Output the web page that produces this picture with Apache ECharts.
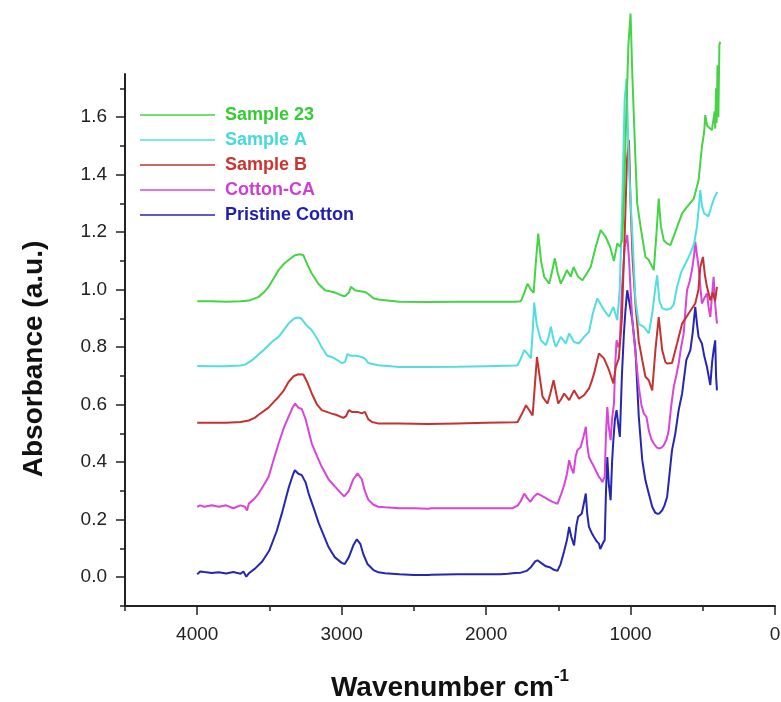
<!DOCTYPE html>
<html>
<head>
<meta charset="utf-8">
<script src="https://cdn.jsdelivr.net/npm/echarts@6/dist/echarts.min.js"></script>
<style>
  html, body { margin: 0; padding: 0; background: #fff; }
  #chart { width: 781px; height: 702px; }
</style>
</head>
<body>
<div id="chart"></div>
<script>
// legend / series names
const names = ['Sample 23', 'Sample A', 'Sample B', 'Cotton-CA', 'Pristine Cotton'];

// tick values
const xMajor = [4000, 3000, 2000, 1000, 0];
const xMinor = [4500, 3500, 2500, 1500, 500];
const yMajor = [0, 0.2, 0.4, 0.6, 0.8, 1.0, 1.2, 1.4, 1.6];
const yMinor = [-0.1, 0.1, 0.3, 0.5, 0.7, 0.9, 1.1, 1.3, 1.5, 1.7];

// spectra, [wavenumber, absorbance]
const sample23 = [
  [4000,0.96],[3900,0.96],[3800,0.958],[3700,0.96],[3643,0.962],[3610,0.968],[3575,0.975],[3540,0.99],
  [3506,1.01],[3470,1.04],[3437,1.068],[3400,1.09],[3350,1.11],[3322,1.12],[3290,1.123],[3265,1.12],
  [3240,1.09],[3207,1.056],[3160,1.02],[3115,0.998],[3069,0.993],[3046,0.99],[3000,0.98],[2977,0.977],
  [2950,0.99],[2936,1.01],[2908,0.998],[2880,0.995],[2839,0.992],[2816,0.985],[2780,0.97],[2747,0.966],
  [2600,0.958],[2400,0.957],[2200,0.958],[2000,0.958],[1800,0.958],[1759,0.96],[1735,0.99],[1713,1.021],
  [1690,1.0],[1671,0.989],[1655,1.1],[1639,1.195],[1620,1.1],[1598,1.045],[1563,1.021],[1545,1.06],
  [1524,1.109],[1505,1.06],[1483,1.021],[1460,1.045],[1441,1.068],[1414,1.045],[1395,1.079],[1363,1.045],
  [1333,1.033],[1303,1.056],[1276,1.079],[1241,1.149],[1207,1.207],[1172,1.184],[1142,1.149],[1115,1.1],
  [1092,1.161],[1074,1.15],[1057,1.172],[1046,1.311],[1030,1.6],[1015,1.85],[1000,1.96],[988,1.75],
  [977,1.6],[966,1.45],[954,1.3],[931,1.22],[897,1.114],[874,1.103],[839,1.068],[820,1.2],[805,1.317],
  [790,1.22],[770,1.172],[747,1.16],[724,1.155],[690,1.201],[643,1.265],[609,1.288],[562,1.317],
  [529,1.381],[506,1.497],[490,1.55],[483,1.607],[470,1.57],[460,1.566],[437,1.555],[425,1.555],
  [418,1.62],[414,1.56],[408,1.7],[404,1.58],[398,1.78],[392,1.6],[385,1.85],[380,1.862]
];
const sampleA = [
  [4000,0.735],[3900,0.734],[3800,0.734],[3700,0.736],[3666,0.74],[3620,0.755],[3575,0.775],[3540,0.79],
  [3480,0.82],[3437,0.836],[3400,0.86],[3368,0.882],[3330,0.9],[3300,0.903],[3280,0.9],[3250,0.88],
  [3207,0.859],[3170,0.83],[3138,0.8],[3100,0.77],[3069,0.766],[3046,0.76],[3000,0.745],[2977,0.748],
  [2960,0.776],[2935,0.77],[2900,0.77],[2862,0.766],[2839,0.76],[2816,0.745],[2747,0.737],[2600,0.731],
  [2400,0.731],[2200,0.732],[2000,0.734],[1800,0.736],[1782,0.737],[1760,0.76],[1736,0.79],[1710,0.775],
  [1690,0.761],[1678,0.85],[1667,0.955],[1650,0.88],[1621,0.824],[1586,0.807],[1570,0.83],[1552,0.871],
  [1530,0.82],[1517,0.801],[1483,0.836],[1448,0.813],[1425,0.848],[1391,0.818],[1357,0.813],[1322,0.836],
  [1288,0.853],[1260,0.92],[1241,0.952],[1230,0.969],[1184,0.929],[1149,0.906],[1119,0.94],[1092,0.894],
  [1075,1.0],[1057,1.311],[1041,1.659],[1028,1.734],[1011,1.427],[988,1.195],[966,0.963],[943,0.88],
  [931,0.877],[908,0.871],[874,0.848],[850,0.917],[830,1.0],[816,1.05],[800,0.96],[780,0.935],[750,0.93],
  [720,0.935],[700,0.95],[678,1.01],[650,1.06],[620,1.09],[586,1.126],[560,1.16],[540,1.22],[525,1.3],
  [517,1.346],[505,1.29],[490,1.265],[460,1.255],[440,1.29],[420,1.32],[400,1.34]
];
const sampleB = [
  [4000,0.537],[3900,0.537],[3800,0.537],[3700,0.54],[3643,0.545],[3600,0.555],[3575,0.565],[3506,0.59],
  [3470,0.61],[3437,0.627],[3400,0.65],[3368,0.679],[3330,0.7],[3300,0.706],[3265,0.705],[3240,0.68],
  [3207,0.639],[3170,0.6],[3138,0.581],[3069,0.569],[3040,0.565],[2988,0.554],[2970,0.56],[2950,0.581],
  [2930,0.575],[2890,0.575],[2860,0.57],[2839,0.575],[2816,0.55],[2790,0.54],[2750,0.535],[2600,0.535],
  [2400,0.533],[2200,0.535],[2000,0.537],[1800,0.539],[1782,0.54],[1750,0.57],[1724,0.598],[1700,0.58],
  [1678,0.563],[1665,0.65],[1648,0.766],[1630,0.7],[1609,0.627],[1575,0.604],[1555,0.64],[1533,0.685],
  [1515,0.64],[1501,0.604],[1480,0.62],[1460,0.639],[1425,0.616],[1391,0.65],[1357,0.621],[1322,0.633],
  [1288,0.656],[1270,0.68],[1253,0.708],[1219,0.778],[1184,0.761],[1149,0.72],[1119,0.674],[1103,0.731],
  [1081,0.761],[1060,0.9],[1040,1.2],[1025,1.45],[1011,1.52],[1000,1.3],[985,1.1],[966,0.95],[943,0.82],
  [919,0.755],[897,0.697],[874,0.685],[850,0.65],[828,0.79],[805,0.905],[781,0.79],[760,0.75],[747,0.743],
  [713,0.745],[678,0.813],[643,0.882],[598,0.917],[552,0.952],[530,1.0],[517,1.079],[499,1.114],[485,1.05],
  [471,1.01],[448,0.963],[430,0.99],[415,0.96],[402,1.01]
];
const cottonCA = [
  [4000,0.245],[3980,0.25],[3950,0.245],[3900,0.25],[3850,0.245],[3800,0.25],[3750,0.24],[3700,0.25],
  [3670,0.245],[3655,0.232],[3643,0.256],[3610,0.27],[3575,0.291],[3540,0.32],[3506,0.349],[3470,0.41],
  [3437,0.465],[3400,0.52],[3368,0.558],[3340,0.59],[3322,0.604],[3300,0.59],[3276,0.585],[3250,0.55],
  [3207,0.465],[3170,0.42],[3138,0.384],[3090,0.34],[3046,0.315],[3010,0.295],[2982,0.281],[2950,0.3],
  [2920,0.34],[2890,0.361],[2860,0.34],[2840,0.3],[2816,0.27],[2780,0.252],[2747,0.245],[2700,0.243],
  [2600,0.24],[2500,0.24],[2400,0.238],[2390,0.232],[2380,0.24],[2200,0.24],[2000,0.24],[1850,0.24],
  [1816,0.24],[1780,0.25],[1760,0.265],[1736,0.291],[1715,0.275],[1694,0.262],[1670,0.28],[1644,0.291],
  [1620,0.285],[1598,0.279],[1570,0.27],[1540,0.262],[1506,0.255],[1480,0.29],[1460,0.32],[1440,0.36],
  [1425,0.407],[1410,0.38],[1395,0.361],[1380,0.42],[1368,0.442],[1345,0.453],[1325,0.49],[1310,0.523],
  [1300,0.46],[1288,0.418],[1270,0.4],[1253,0.384],[1235,0.365],[1219,0.349],[1205,0.34],[1195,0.331],
  [1179,0.35],[1170,0.5],[1161,0.592],[1150,0.52],[1138,0.477],[1128,0.55],[1115,0.604],[1105,0.75],
  [1097,0.824],[1085,0.8],[1074,0.82],[1060,1.0],[1040,1.15],[1023,1.19],[1010,1.1],[1000,1.0],[988,0.894],
  [966,0.78],[943,0.662],[925,0.6],[908,0.569],[890,0.558],[874,0.511],[856,0.48],[839,0.465],[820,0.452],
  [805,0.448],[787,0.45],[770,0.459],[750,0.48],[736,0.511],[720,0.59],[701,0.662],[684,0.7],[667,0.743],
  [650,0.8],[632,0.848],[620,0.93],[609,0.998],[590,1.03],[575,1.068],[560,1.12],[552,1.166],[540,1.12],
  [529,1.079],[515,1.0],[506,0.952],[490,0.97],[471,0.987],[460,0.94],[448,0.905],[436,0.98],[425,1.045],
  [414,0.95],[402,0.882]
];
const pristine = [
  [4000,0.01],[3980,0.02],[3950,0.018],[3900,0.015],[3850,0.017],[3800,0.013],[3750,0.018],[3700,0.012],
  [3680,0.02],[3660,0.002],[3640,0.015],[3600,0.03],[3550,0.055],[3500,0.094],[3450,0.16],[3414,0.222],
  [3366,0.313],[3335,0.36],[3324,0.372],[3300,0.36],[3276,0.355],[3250,0.33],[3228,0.29],[3190,0.235],
  [3159,0.188],[3120,0.14],[3090,0.104],[3048,0.07],[3000,0.05],[2979,0.046],[2950,0.07],[2920,0.11],
  [2895,0.132],[2870,0.115],[2850,0.08],[2820,0.045],[2780,0.025],[2745,0.017],[2700,0.014],[2600,0.01],
  [2500,0.008],[2400,0.008],[2390,0.002],[2380,0.009],[2200,0.01],[2000,0.01],[1900,0.01],[1850,0.012],
  [1800,0.015],[1760,0.016],[1720,0.022],[1690,0.035],[1660,0.055],[1644,0.059],[1620,0.05],[1586,0.038],
  [1560,0.035],[1530,0.026],[1506,0.022],[1485,0.045],[1460,0.09],[1440,0.13],[1425,0.175],[1410,0.14],
  [1391,0.111],[1375,0.18],[1363,0.21],[1338,0.221],[1322,0.26],[1310,0.291],[1300,0.22],[1288,0.175],
  [1270,0.155],[1253,0.14],[1235,0.125],[1219,0.117],[1210,0.098],[1202,0.094],[1190,0.12],[1179,0.129],
  [1170,0.3],[1161,0.418],[1150,0.32],[1138,0.268],[1128,0.4],[1119,0.477],[1108,0.55],[1097,0.581],
  [1085,0.53],[1074,0.488],[1060,0.7],[1046,0.848],[1035,0.93],[1023,0.998],[1010,0.96],[988,0.894],
  [966,0.79],[943,0.558],[919,0.407],[897,0.337],[885,0.331],[874,0.291],[850,0.245],[830,0.225],
  [816,0.221],[800,0.222],[781,0.233],[765,0.25],[747,0.279],[730,0.36],[713,0.442],[690,0.5],[667,0.581],
  [643,0.639],[614,0.755],[586,0.79],[570,0.85],[552,0.94],[540,0.88],[529,0.836],[506,0.813],[490,0.77],
  [471,0.731],[448,0.668],[435,0.75],[425,0.79],[414,0.824],[408,0.7],[402,0.65]
];

const lineColors = ['#45d445', '#52dede', '#c43232', '#d845d8', '#2626b0'];
const textColors = ['#33cc33', '#44dada', '#cc3333', '#cc40cc', '#1e1eb4'];
const spectra = [sample23, sampleA, sampleB, cottonCA, pristine];

let myChart = echarts.init(document.getElementById('chart'));

let series = [];
for (let i = spectra.length - 1; i >= 0; i--) {
  series.push({
    name: names[i],
    type: 'line',
    data: spectra[i],
    showSymbol: false,
    clip: false,
    color: lineColors[i],
    lineStyle: { width: 2, color: lineColors[i] }
  });
}

const axisColor = '#222';
const font = 'Liberation Sans, Arial, sans-serif';

let option = {
  animation: false,
  backgroundColor: '#fff',
  grid: { left: 125, right: 6, top: 74, bottom: 96, outerBoundsMode: 'none' },
  legend: {
    orient: 'vertical',
    left: 140,
    top: 106,
    padding: 0,
    itemGap: 7,
    itemWidth: 75,
    itemHeight: 1.5,
    icon: 'rect',
    data: names.map((n, i) => ({
      name: n,
      textStyle: { color: textColors[i] }
    })),
    textStyle: { fontFamily: font, fontSize: 18, fontWeight: 'bold', lineHeight: 18, padding: [0, 0, 0, 5] }
  },
  xAxis: [
    {
      type: 'value', min: 0, max: 4500, inverse: true,
      name: '{a|Wavenumber cm}{b|-1}',
      nameLocation: 'middle', nameGap: 62,
      nameTextStyle: {
        rich: {
          a: { fontFamily: font, fontSize: 28, fontWeight: 'bold', color: '#111', lineHeight: 40 },
          b: { fontFamily: font, fontSize: 17, fontWeight: 'bold', color: '#111', lineHeight: 17, verticalAlign: 'top' }
        }
      },
      axisLine: { onZero: false, lineStyle: { color: axisColor, width: 2 } },
      axisTick: { customValues: xMajor, length: 9, lineStyle: { color: axisColor, width: 1.5 } },
      axisLabel: { customValues: xMajor, margin: 19, fontFamily: font, fontSize: 19, color: '#222', formatter: v => String(v) },
      splitLine: { show: false }
    },
    {
      type: 'value', min: 0, max: 4500, inverse: true, position: 'bottom',
      axisLine: { show: false, onZero: false },
      axisTick: { customValues: xMinor, length: 5, lineStyle: { color: axisColor, width: 1.5 } },
      axisLabel: { show: false },
      splitLine: { show: false }
    }
  ],
  yAxis: [
    {
      type: 'value', min: -0.1, max: 1.75, position: 'left',
      name: 'Absorbance (a.u.)',
      nameLocation: 'middle', nameGap: 77,
      nameTextStyle: { fontFamily: font, fontSize: 28, fontWeight: 'bold', color: '#111', padding: [0, 38, 0, 0] },
      axisLine: { show: true, onZero: false, lineStyle: { color: axisColor, width: 2 } },
      axisTick: { show: true, customValues: yMajor, length: 9, lineStyle: { color: axisColor, width: 1.5 } },
      axisLabel: {
        customValues: yMajor, margin: 18, fontFamily: font, fontSize: 19, color: '#222',
        formatter: v => v.toFixed(1)
      },
      splitLine: { show: false }
    },
    {
      type: 'value', min: -0.1, max: 1.75, position: 'left', offset: 0,
      axisLine: { show: false, onZero: false },
      axisTick: { show: true, customValues: yMinor, length: 5, lineStyle: { color: axisColor, width: 1.5 } },
      axisLabel: { show: false },
      splitLine: { show: false }
    }
  ],
  series: series
};

myChart.setOption(option);
</script>
</body>
</html>
